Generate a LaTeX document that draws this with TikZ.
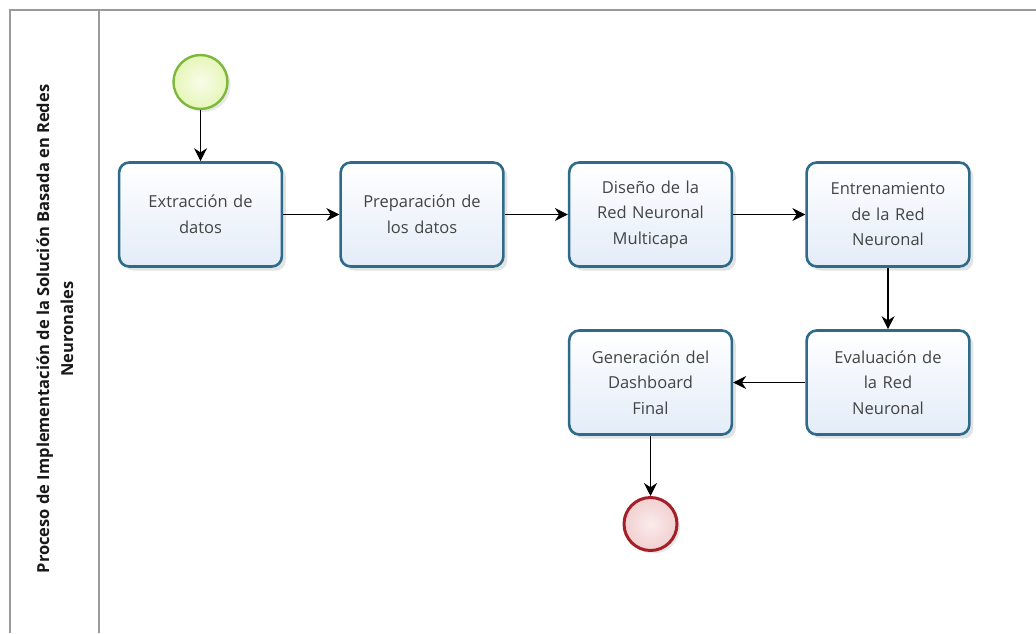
\documentclass[tikz,border=0pt]{standalone}
\usepackage{fontspec}
\setmainfont{Open Sans}
\usetikzlibrary{arrows.meta,shadows}
\definecolor{frameline}{HTML}{9A9A9A}
\definecolor{taskline}{HTML}{2E6B8A}
\definecolor{taskfill}{HTML}{E3ECF8}
\definecolor{tasktext}{HTML}{444444}
\definecolor{startline}{HTML}{7DB83A}
\definecolor{startfill}{HTML}{E6F6B8}
\definecolor{endline}{HTML}{A51F28}
\definecolor{endfill}{HTML}{F2CFCF}
\tikzset{
  task/.style={draw=taskline, line width=2.6pt, rounded corners=10pt,
    minimum width=159pt, minimum height=104pt, top color=white, bottom color=taskfill,
    drop shadow={shadow xshift=4pt, shadow yshift=-4pt, opacity=.18, fill=black!60},
    align=center, text width=156pt, text=tasktext,
    font=\fontsize{16.5}{25.5}\selectfont},
  startev/.style={circle, draw=startline, line width=2.4pt, minimum size=54pt,
    inner color=white!70!startfill, outer color=startfill,
    drop shadow={shadow xshift=3pt, shadow yshift=-3pt, opacity=.15, fill=black!60}},
  endev/.style={circle, draw=endline, line width=3pt, minimum size=53pt,
    inner color=white!60!endfill, outer color=endfill,
    drop shadow={shadow xshift=3pt, shadow yshift=-3pt, opacity=.15, fill=black!60}},
  flow/.style={draw=black, line width=1.1pt, -{Stealth[length=13pt,width=13pt]}},
  lane/.style={draw=frameline, line width=1.6pt}
}
\begin{document}
\begin{tikzpicture}[x=1pt,y=-1pt]
  \useasboundingbox (0,0) rectangle (1036,633);
  \fill[white] (0,0) rectangle (1036,633);

  % pool frame and lane header
  \draw[lane] (10,633) -- (10,10) -- (1036,10);
  \draw[lane] (99,10) -- (99,633);
  \node[rotate=90, align=center, text=black!90,
        font=\bfseries\fontsize{16.5}{24}\selectfont] (title) at (55,329)
    {Proceso de Implementación de la Solución Basada en Redes\\Neuronales};

  % events
  \node[startev] (start) at (200.5,82) {};
  \node[endev] (finish) at (650.5,524) {};

  % tasks
  \node[task] (t1) at (200.5,214.5) {Extracción de\\datos};
  \node[task] (t2) at (422,214.5) {Preparación de\\los datos};
  \node[task] (t3) at (650.5,214.5) {Diseño de la\\Red Neuronal\\Multicapa};
  \node[task] (t4) at (888,214.5) {Entrenamiento\\de la Red\\Neuronal};
  \node[task] (t5) at (888,382.5) {Evaluación de\\la Red\\Neuronal};
  \node[task] (t6) at (650.5,382.5) {Generación del\\Dashboard\\Final};

  % sequence flows
  \draw[flow] (start) -- (t1);
  \draw[flow] (t1) -- (t2);
  \draw[flow] (t2) -- (t3);
  \draw[flow] (t3) -- (t4);
  \draw[flow] (t4) -- (t5);
  \draw[flow] (t5) -- (t6);
  \draw[flow] (t6) -- (finish);
\end{tikzpicture}
\end{document}
